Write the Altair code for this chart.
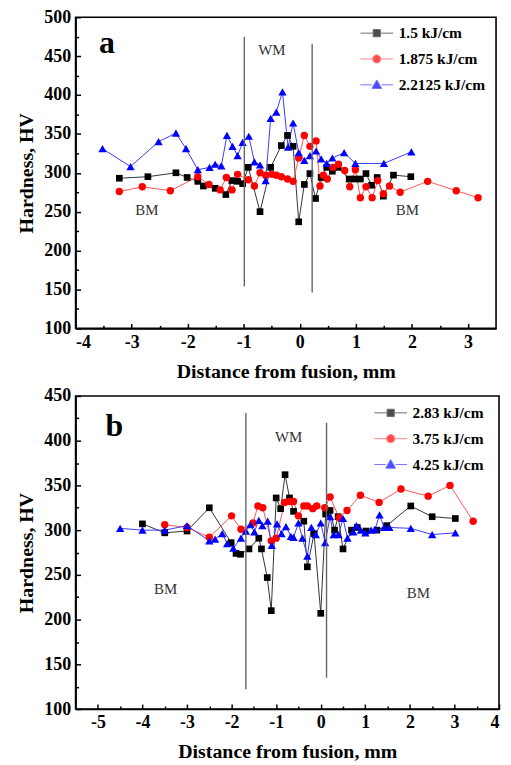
import altair as alt
import pandas as pd

FONT = "Liberation Serif"

# ---------------- Panel a data ----------------
a_names = ["1.5 kJ/cm", "1.875 kJ/cm", "2.2125 kJ/cm"]
a_x1 = [-3.22, -2.71, -2.21, -2.01, -1.82, -1.72, -1.51, -1.32, -1.21, -1.11, -1.02, -0.92, -0.71, -0.52,
        -0.33, -0.22, -0.12, -0.02, 0.08, 0.18, 0.28, 0.38, 0.48, 0.58, 0.68, 0.88, 0.98, 1.08, 1.18,
        1.28, 1.38, 1.49, 1.67, 1.98]
a_y1 = [293, 295, 300, 294, 289, 283, 280, 272, 290, 289, 286, 307, 250, 307, 335, 348, 334, 237, 285,
        299, 267, 294, 307, 302, 307, 292, 292, 292, 299, 284, 294, 270, 297, 295]
a_x2 = [-3.22, -2.81, -2.31, -1.82, -1.62, -1.42, -1.31, -1.21, -1.11, -0.92, -0.81, -0.71, -0.61, -0.50,
        -0.42, -0.33, -0.22, -0.12, -0.02, 0.08, 0.18, 0.29, 0.36, 0.42, 0.49, 0.59, 0.69, 0.80, 0.89,
        0.99, 1.08, 1.18, 1.29, 1.39, 1.49, 1.60, 1.79, 2.28, 2.79, 3.18]
a_y2 = [276, 282, 277, 295, 285, 278, 294, 278, 298, 291, 283, 300, 297, 298, 297, 295, 292, 289, 319,
        348, 334, 341, 283, 297, 292, 307, 311, 303, 282, 304, 268, 282, 268, 290, 273, 283, 275, 289,
        277, 268]
a_x3 = [-3.52, -3.02, -2.52, -2.21, -2.03, -1.82, -1.61, -1.51, -1.40, -1.30, -1.20, -1.11, -1.02, -0.91,
        -0.81, -0.71, -0.61, -0.52, -0.42, -0.31, -0.21, -0.12, -0.02, 0.08, 0.18, 0.29, 0.38, 0.48,
        0.58, 0.79, 0.99, 1.50, 1.99]
a_y3 = [331, 308, 340, 351, 331, 304, 307, 311, 309, 348, 334, 322, 339, 347, 314, 310, 290, 370, 378,
        404, 333, 364, 326, 316, 322, 328, 318, 312, 319, 326, 312, 312, 327]
a_xticks = [-4, -3, -2, -1, 0, 1, 2, 3]
a_xminor = [-3.5, -2.5, -1.5, -0.5, 0.5, 1.5, 2.5]
a_yticks = [100, 150, 200, 250, 300, 350, 400, 450, 500]
a_yminor = [125, 175, 225, 275, 325, 375, 425, 475]
a_vx = [-0.99, 0.22]
a_vtop = [475, 466]
a_vbot = [154, 146]
a_note_text = ["WM", "BM", "BM"]
a_note_x = [-0.50, -2.73, 1.92]
a_note_y = [458, 252, 252]
a_letter = ["a"]
a_letter_x = [-3.44]
a_letter_y = [467]

# ---------------- Panel b data ----------------
b_names = ["2.83 kJ/cm", "3.75 kJ/cm", "4.25 kJ/cm"]
b_x1 = [-4.0, -3.5, -3.0, -2.5, -2.01, -1.90, -1.80, -1.61, -1.39, -1.33, -1.20, -1.11, -1.00, -0.90,
        -0.80, -0.70, -0.61, -0.38, -0.30, -0.15, 0.0, 0.11, 0.21, 0.31, 0.39, 0.50, 0.69, 0.82, 1.02,
        1.26, 1.48, 2.02, 2.50, 3.02]
b_y1 = [307, 297, 299, 325, 286, 274, 273, 279, 291, 279, 247, 210, 336, 324, 362, 336, 321, 310, 259,
        296, 207, 318, 322, 300, 315, 279, 300, 303, 299, 300, 305, 327, 315, 313]
b_x2 = [-3.5, -3.0, -2.5, -2.0, -1.79, -1.52, -1.41, -1.30, -1.11, -1.00, -0.81, -0.70, -0.61, -0.50,
        -0.38, -0.30, -0.18, -0.09, 0.09, 0.21, 0.41, 0.59, 0.89, 1.31, 1.80, 2.41, 2.90, 3.42]
b_y2 = [306, 303, 292, 316, 301, 308, 327, 325, 288, 291, 331, 332, 332, 316, 327, 327, 324, 327, 325,
        337, 314, 322, 339, 331, 346, 338, 350, 310]
b_x3 = [-4.5, -4.0, -3.5, -3.0, -2.5, -2.37, -2.21, -2.10, -1.96, -1.79, -1.68, -1.58, -1.49, -1.39,
        -1.31, -1.19, -1.10, -0.98, -0.88, -0.78, -0.67, -0.61, -0.50, -0.41, -0.30, -0.21, -0.11, 0.0,
        0.10, 0.21, 0.29, 0.40, 0.50, 0.60, 0.73, 0.80, 0.90, 1.00, 1.13, 1.22, 1.32, 1.42, 1.54, 2.02,
        2.50, 3.02]
b_y3 = [302, 300, 300, 305, 288, 290, 296, 285, 280, 291, 299, 306, 298, 311, 305, 310, 283, 307, 296,
        304, 293, 292, 308, 291, 271, 303, 295, 308, 286, 315, 295, 295, 313, 291, 298, 305, 300, 297,
        300, 301, 317, 303, 303, 302, 295, 297]
b_xticks = [-5, -4, -3, -2, -1, 0, 1, 2, 3, 4]
b_xminor = [-4.5, -3.5, -2.5, -1.5, -0.5, 0.5, 1.5, 2.5, 3.5]
b_yticks = [100, 150, 200, 250, 300, 350, 400, 450]
b_yminor = [125, 175, 225, 275, 325, 375, 425]
b_vx = [-1.68, 0.13]
b_vtop = [431, 420]
b_vbot = [122, 135]
b_note_text = ["WM", "BM", "BM"]
b_note_x = [-0.72, -3.48, 2.19]
b_note_y = [404, 234, 230]
b_letter = ["b"]
b_letter_x = [-4.63]
b_letter_y = [416]

# ---------------- styles ----------------
marker_colors = ["#000000", "#ff0000", "#0000ff"]
line_colors = ["#333333", "#ff5555", "#3a3aff"]
marker_shapes = ["square", "circle", "triangle-up"]
marker_sizes = [45, 55, 70]
legend_paths = [
    "M-1,0H-0.22M0.22,0H1M-0.22,-0.22H0.22V0.22H-0.22Z",
    "M-1,0H-0.25M0.25,0H1M-0.25,0A0.25,0.25,0,1,1,0.25,0A0.25,0.25,0,1,1,-0.25,0Z",
    "M-1,0H-0.3M0.3,0H1M0,-0.3L0.3,0.22H-0.3Z",
]


def make_panel(names, xs_list, ys_list, xdom, ydom, xticks, xminor, yticks, yminor,
               vx, vtop, vbot, note_text, note_x, note_y, letter, letter_x, letter_y,
               W, H, legX, legY):
    xsc = alt.Scale(domain=xdom, nice=False, zero=False)
    ysc = alt.Scale(domain=ydom, nice=False, zero=False)
    no_x = alt.X("x:Q", scale=xsc, axis=None)
    no_y = alt.Y("y:Q", scale=ysc, axis=None)

    layers = []
    for i, (nm, xv, yv) in enumerate(zip(names, xs_list, ys_list)):
        df = pd.DataFrame({"x": xv, "y": yv, "series": nm})
        if i == 0:
            xenc = alt.X("x:Q", scale=xsc, axis=alt.Axis(
                values=xticks, labelExpr="'' + datum.value", ticks=False, grid=False,
                domainColor="black", domainWidth=1.6, labelPadding=5,
                title="Distance from fusion, mm", titlePadding=10))
            yenc = alt.Y("y:Q", scale=ysc, axis=alt.Axis(
                values=yticks, ticks=False, grid=False, domainColor="black", domainWidth=1.6,
                labelPadding=5, title="Hardness, HV", titlePadding=7))
        else:
            xenc, yenc = no_x, no_y
        layers.append(alt.Chart(df).mark_line(strokeWidth=1, color=line_colors[i]).encode(
            x=xenc, y=yenc))
    for i, (nm, xv, yv) in enumerate(zip(names, xs_list, ys_list)):
        df = pd.DataFrame({"x": xv, "y": yv, "series": nm})
        layers.append(alt.Chart(df).mark_point(
            filled=True, shape=marker_shapes[i], size=marker_sizes[i], opacity=1,
            color=marker_colors[i]).encode(x=no_x, y=no_y))

    # fusion boundary lines (carry the inward major ticks)
    vdf = pd.DataFrame({"x": vx, "y": vbot, "y2": vtop})
    layers.append(alt.Chart(vdf).mark_rule(color="#666666", strokeWidth=1.4).encode(
        x=alt.X("x:Q", scale=xsc, axis=alt.Axis(
            orient="top", offset=-H, values=xticks, labels=False, domain=False, grid=False,
            tickSize=5, tickWidth=1.5, tickColor="black", title=None)),
        y=alt.Y("y:Q", scale=ysc, axis=alt.Axis(
            orient="right", offset=-W, values=yticks, labels=False, domain=False, grid=False,
            tickSize=5, tickWidth=1.5, tickColor="black", title=None)),
        y2="y2:Q"))

    # zone labels (carry the inward minor ticks)
    ndf = pd.DataFrame({"x": note_x, "y": note_y, "t": note_text})
    layers.append(alt.Chart(ndf).mark_text(font=FONT, fontSize=15, color="#333333").encode(
        x=alt.X("x:Q", scale=xsc, axis=alt.Axis(
            orient="top", offset=-H, values=xminor, labels=False, domain=False, grid=False,
            tickSize=3, tickWidth=1.5, tickColor="black", title=None)),
        y=alt.Y("y:Q", scale=ysc, axis=alt.Axis(
            orient="right", offset=-W, values=yminor, labels=False, domain=False, grid=False,
            tickSize=3, tickWidth=1.5, tickColor="black", title=None)),
        text="t:N"))

    ldf = pd.DataFrame({"x": letter_x, "y": letter_y, "t": letter})
    layers.append(alt.Chart(ldf).mark_text(font=FONT, fontSize=32, fontWeight="bold",
                                           color="black").encode(x=no_x, y=no_y, text="t:N"))

    # legend carrier (no visible marks)
    legdf = pd.DataFrame({"x": xs_list[0][:3], "y": ys_list[0][:3], "series": names})
    leg = alt.Legend(orient="none", legendX=legX, legendY=legY, title=None, padding=0,
                     labelFont=FONT, labelFontSize=15.5, labelFontWeight="bold",
                     labelColor="black", symbolSize=1089, symbolStrokeWidth=1,
                     labelOffset=5, rowPadding=-1.5)
    layers.append(alt.Chart(legdf).mark_point(filled=True, strokeWidth=1).encode(
        x=no_x, y=no_y,
        color=alt.Color("series:N", scale=alt.Scale(domain=names, range=marker_colors), legend=leg),
        stroke=alt.Stroke("series:N", scale=alt.Scale(domain=names, range=line_colors), legend=leg),
        shape=alt.Shape("series:N", scale=alt.Scale(domain=names, range=legend_paths), legend=leg),
    ).transform_filter("false"))

    return alt.layer(*layers).properties(width=W, height=H).resolve_axis(
        x="independent", y="independent")


pa = make_panel(a_names, [a_x1, a_x2, a_x3], [a_y1, a_y2, a_y3], [-4, 3.5], [100, 500],
                a_xticks, a_xminor, a_yticks, a_yminor, a_vx, a_vtop, a_vbot,
                a_note_text, a_note_x, a_note_y, a_letter, a_letter_x, a_letter_y,
                423, 313, 286, -1)
pb = make_panel(b_names, [b_x1, b_x2, b_x3], [b_y1, b_y2, b_y3], [-5.5, 4], [100, 450],
                b_xticks, b_xminor, b_yticks, b_yminor, b_vx, b_vtop, b_vbot,
                b_note_text, b_note_x, b_note_y, b_letter, b_letter_x, b_letter_y,
                426, 315, 300, 0)

chart = alt.vconcat(pa, pb, spacing=4).resolve_scale(
    color="independent", stroke="independent", shape="independent"
).properties(
    padding={"left": 8, "top": -3, "right": 2, "bottom": 2}
).configure_axis(
    labelFont=FONT, labelFontSize=18, labelFontWeight="bold", labelColor="black",
    titleFont=FONT, titleFontSize=20, titleFontWeight="bold", titleColor="black",
).configure_view(
    stroke="black", strokeWidth=1.6
)

chart.save("out.html", embed_options={"renderer": "svg", "actions": False})
